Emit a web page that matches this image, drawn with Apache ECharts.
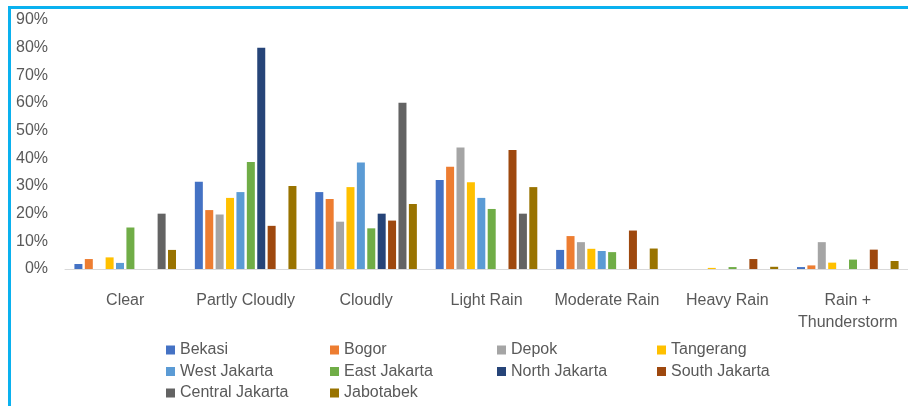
<!DOCTYPE html>
<html>
<head>
<meta charset="utf-8">
<script src="https://cdn.jsdelivr.net/npm/echarts@6/dist/echarts.min.js"></script>
<style>
html,body{margin:0;padding:0;background:#fff;}
#chart{width:908px;height:406px;}
</style>
</head>
<body>
<div id="chart"></div>
<script>
const categories = ['Clear', 'Partly Cloudly', 'Cloudly', 'Light Rain', 'Moderate Rain', 'Heavy Rain', 'Rain +\nThunderstorm'];
const yTicks = [0, 10, 20, 30, 40, 50, 60, 70, 80, 90];

const bekasi         = [1.8, 31.5, 27.8, 32.2, 6.9, 0, 0.7];
const bogor          = [3.6, 21.3, 25.3, 37.0, 11.9, 0, 1.3];
const depok          = [0, 19.7, 17.1, 43.9, 9.7, 0, 9.7];
const tangerang      = [4.2, 25.7, 29.6, 31.4, 7.3, 0.4, 2.3];
const westJakarta    = [2.2, 27.8, 38.5, 25.7, 6.5, 0, 0];
const eastJakarta    = [15.0, 38.7, 14.7, 21.7, 6.1, 0.7, 3.4];
const northJakarta   = [0, 80.0, 20.0, 0, 0, 0, 0];
const southJakarta   = [0, 15.6, 17.5, 43.0, 13.9, 3.6, 7.0];
const centralJakarta = [20.0, 0, 60.1, 20.0, 0, 0, 0];
const jabotabek      = [6.9, 30.0, 23.5, 29.6, 7.4, 0.8, 2.9];

const seriesNames = ['Bekasi', 'Bogor', 'Depok', 'Tangerang', 'West Jakarta', 'East Jakarta', 'North Jakarta', 'South Jakarta', 'Central Jakarta', 'Jabotabek'];
const seriesValues = [bekasi, bogor, depok, tangerang, westJakarta, eastJakarta, northJakarta, southJakarta, centralJakarta, jabotabek];
const colors = ['#4472C4', '#ED7D31', '#A5A5A5', '#FFC000', '#5B9BD5', '#70AD47', '#264478', '#9E480E', '#636363', '#997300'];

const FONT = '"Liberation Sans", Arial, sans-serif';
const TEXT = '#595959';

const legendCols = [166, 330, 497, 657];
const legendRows = [342, 363.5, 385];

const legends = seriesNames.map((name, i) => ({
  data: [name],
  left: legendCols[i % 4],
  top: legendRows[Math.floor(i / 4)],
  itemWidth: 9,
  itemHeight: 9,
  icon: 'rect',
  padding: 0,
  textStyle: { fontFamily: FONT, fontSize: 16, color: TEXT },
  selectedMode: false
}));

const chart = echarts.init(document.getElementById('chart'), null, { renderer: 'canvas' });
chart.setOption({
  animation: false,
  backgroundColor: '#ffffff',
  color: colors,
  legend: legends,
  grid: { left: 65, top: 20, width: 852, height: 249, containLabel: false },
  xAxis: {
    type: 'category',
    data: categories,
    axisLine: { show: true, lineStyle: { color: '#D9D9D9', width: 1 } },
    axisTick: { show: false },
    axisLabel: {
      interval: 0,
      margin: 21,
      fontFamily: FONT,
      fontSize: 16,
      color: TEXT,
      lineHeight: 22
    }
  },
  yAxis: {
    type: 'value',
    min: yTicks[0],
    max: yTicks[yTicks.length - 1],
    interval: 10,
    axisLine: { show: false },
    axisTick: { show: false },
    splitLine: { show: false },
    axisLabel: {
      margin: 17,
      fontFamily: FONT,
      fontSize: 16,
      color: TEXT,
      formatter: v => v + '%'
    }
  },
  series: seriesNames.map((name, i) => ({
    name: name,
    type: 'bar',
    data: seriesValues[i],
    barWidth: 8,
    barGap: '30%',
    itemStyle: { color: colors[i] }
  })),
  graphic: [
    { type: 'line', shape: { x1: 9.5, y1: 6, x2: 9.5, y2: 406 }, style: { stroke: '#0AB1EF', lineWidth: 3 }, z: 100 },
    { type: 'line', shape: { x1: 8, y1: 7.5, x2: 908, y2: 7.5 }, style: { stroke: '#0AB1EF', lineWidth: 3 }, z: 100 }
  ]
});
</script>
</body>
</html>
